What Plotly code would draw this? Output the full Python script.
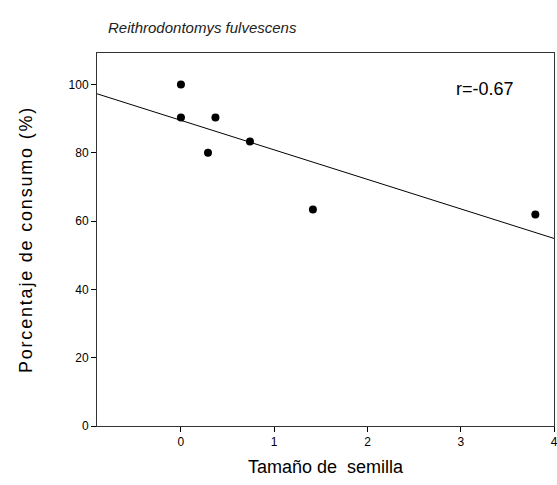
import numpy as np
import plotly.graph_objects as go

seed_size = [0.0, 0.0, 0.37, 0.29, 0.74, 1.415, 3.80]
consumption = [100.0, 90.3, 90.3, 80.0, 83.3, 63.4, 61.9]
x_ticks = [0, 1, 2, 3, 4]
y_ticks = [0, 20, 40, 60, 80, 100]
x_range = [-0.9, 4.0]
y_range = [0, 109.2]

slope, intercept = np.polyfit(seed_size, consumption, 1)
line_x = np.array(x_range)
line_y = slope * line_x + intercept

FONT = "Liberation Sans, Arial, sans-serif"

fig = go.Figure()
fig.add_trace(go.Scatter(x=line_x, y=line_y, mode="lines",
                         line=dict(color="black", width=1), showlegend=False))
fig.add_trace(go.Scatter(x=seed_size, y=consumption, mode="markers",
                         marker=dict(color="black", size=8), showlegend=False,
                         cliponaxis=False))

fig.update_layout(
    width=557, height=485,
    margin=dict(l=97, r=3, t=53, b=59),
    paper_bgcolor="white", plot_bgcolor="white",
    font=dict(family=FONT, color="black"),
    showlegend=False,
)
fig.update_xaxes(range=x_range, tickvals=x_ticks, ticks="outside", ticklen=5,
                 tickcolor="black", showline=True, linecolor="#333", linewidth=1,
                 mirror=True, showgrid=False, zeroline=False, automargin=False,
                 ticklabeloverflow="allow",
                 tickfont=dict(size=12, family=FONT),
                 title=dict(text="Tamaño de\u00a0 semilla", font=dict(size=18, family=FONT), standoff=11))
fig.update_yaxes(range=y_range, tickvals=y_ticks, ticks="outside", ticklen=5,
                 tickcolor="black", showline=True, linecolor="#333", linewidth=1,
                 mirror=True, showgrid=False, zeroline=False, automargin=False,
                 tickfont=dict(size=12, family=FONT),
                 title=dict(text="Porcentaje de consumo (%)", font=dict(size=18, family=FONT), standoff=31))

fig.add_annotation(text="<i>Reithrodontomys fulvescens</i>", xref="paper", yref="paper",
                   x=(106 - 97) / 457, y=1 + (53 - 28) / 373, xanchor="left", yanchor="middle",
                   showarrow=False, font=dict(size=15, family=FONT, color="#222"))
fig.add_annotation(text="r=-0.67", xref="paper", yref="paper",
                   x=(485 - 97) / 457, y=1 - (89 - 53) / 373, xanchor="center", yanchor="middle",
                   showarrow=False, font=dict(size=18, family=FONT, color="black"))

post = """
document.documentElement.style.margin = '0';
document.body.style.margin = '0';
document.body.style.overflow = 'hidden';
var s = document.querySelectorAll('.ytitle');
s.forEach(function(t){ t.style.letterSpacing = '1.8px'; });
"""
fig.write_html("out.html", post_script=post, config={"displayModeBar": False})
